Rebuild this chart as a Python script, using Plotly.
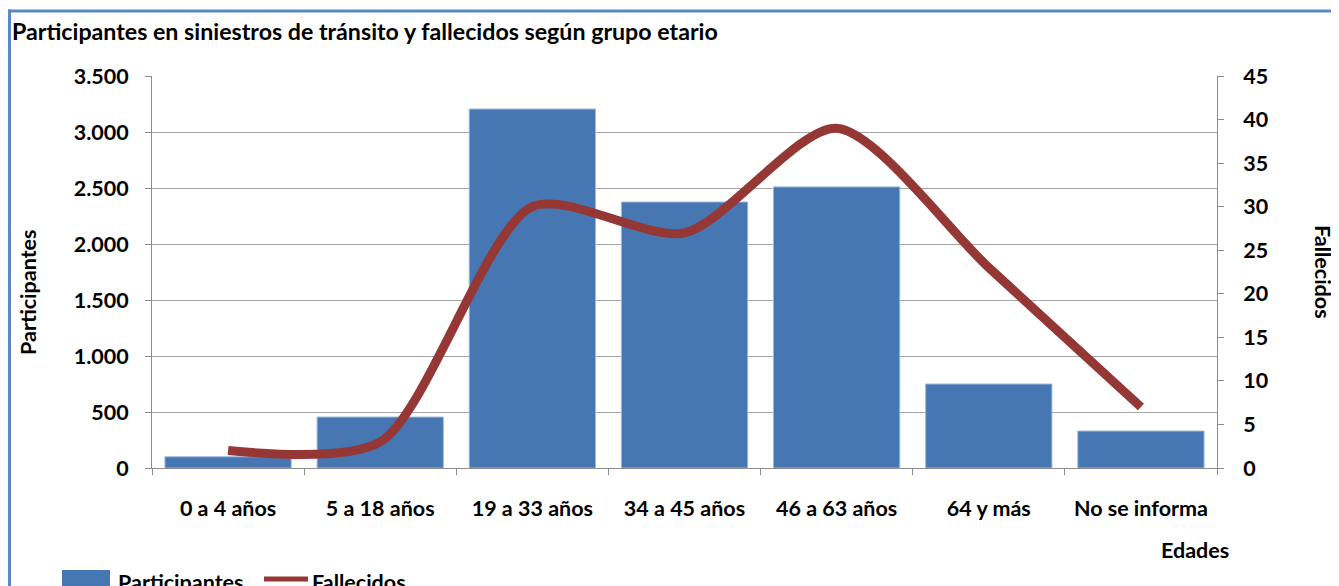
import plotly.graph_objects as go

categorias = ["0 a 4 años", "5 a 18 años", "19 a 33 años", "34 a 45 años",
              "46 a 63 años", "64 y más", "No se informa"]
participantes = [100, 455, 3205, 2375, 2510, 750, 330]
fallecidos = [2, 3, 30, 27, 39, 23, 7]

tick_part_vals = [0, 500, 1000, 1500, 2000, 2500, 3000, 3500]
tick_part_text = ["0", "500", "1.000", "1.500", "2.000", "2.500", "3.000", "3.500"]
tick_fall_vals = [0, 5, 10, 15, 20, 25, 30, 35, 40, 45]

# The page body has an 8px margin, so figure coords = page coords - OFF
OFF = 8
W, H = 1339, 586
L, R, T, B = 152 - OFF, 1217 - OFF, 76 - OFF, 468 - OFF
FONT = "Lato"
FS = 21.5
BAR_COLOR = "#4677b3"
LINE_COLOR = "#953735"
AXIS_COLOR = "#8c8c8c"
BORDER_COLOR = "#5b87c5"


def px(x):
    return (x - OFF - L) / (R - L)


def py(y):
    return (B - (y - OFF)) / (B - T)


fig = go.Figure()
fig.add_trace(go.Bar(
    x=categorias, y=participantes, name="Participantes",
    marker=dict(color=BAR_COLOR, line=dict(color="#9fb8d9", width=1)),
    yaxis="y", showlegend=False,
))
fig.add_trace(go.Scatter(
    x=categorias, y=fallecidos, name="Fallecidos", mode="lines",
    line=dict(color=LINE_COLOR, width=9, shape="spline", smoothing=0.75),
    yaxis="y2", showlegend=False,
))

tickfont = dict(family=FONT, size=FS, color="#000000")
fig.update_layout(
    width=W, height=H,
    margin=dict(l=L, r=W - R, t=T, b=H - B),
    paper_bgcolor="white", plot_bgcolor="white",
    bargap=0.17,
    font=dict(family=FONT, color="#000000"),
    title=dict(text="<b>Participantes en siniestros de tránsito y fallecidos según grupo etario</b>",
               x=(12 - OFF) / W, xanchor="left", xref="container",
               y=1 - (32 - OFF) / H, yanchor="middle", yref="container",
               font=dict(family=FONT, size=23.2, color="#000000")),
    xaxis=dict(
        type="category", showgrid=False, showline=True, linecolor=AXIS_COLOR, linewidth=1,
        ticks="outside", ticklen=6, tickcolor=AXIS_COLOR, tickson="boundaries",
        tickfont=tickfont, ticklabelstandoff=21,
        tickvals=categorias, ticktext=["<b>%s</b>" % c for c in categorias],
    ),
    yaxis=dict(
        range=[0, 3500], tickvals=tick_part_vals,
        ticktext=["<b>%s</b>" % t for t in tick_part_text],
        showgrid=True, gridcolor="#a6a6a6", gridwidth=1,
        showline=True, linecolor=AXIS_COLOR, linewidth=1,
        ticks="outside", ticklen=6, tickcolor=AXIS_COLOR,
        tickfont=tickfont, ticklabelstandoff=12, zeroline=False,
    ),
    yaxis2=dict(
        range=[0, 45], tickvals=tick_fall_vals,
        ticktext=["<b>%d</b>" % t for t in tick_fall_vals],
        overlaying="y", side="right", showgrid=False,
        showline=True, linecolor=AXIS_COLOR, linewidth=1,
        ticks="outside", ticklen=6, tickcolor=AXIS_COLOR,
        tickfont=tickfont, ticklabelstandoff=15, zeroline=False,
    ),
)

annotations = [
    dict(text="<b>Participantes</b>", x=px(28), y=py(292), textangle=-90,
         font=dict(family=FONT, size=FS)),
    dict(text="<b>Fallecidos</b>", x=px(1323), y=py(272), textangle=90,
         font=dict(family=FONT, size=FS)),
    dict(text="<b>Edades</b>", x=px(1195), y=py(550),
         font=dict(family=FONT, size=FS)),
    dict(text="<b>Participantes</b>", x=px(116), y=py(582), xanchor="left",
         font=dict(family=FONT, size=FS)),
    dict(text="<b>Fallecidos</b>", x=px(310), y=py(582), xanchor="left",
         font=dict(family=FONT, size=FS)),
]
for a in annotations:
    a.update(xref="paper", yref="paper", showarrow=False)
    a.setdefault("xanchor", "center")
    a.setdefault("yanchor", "middle")
fig.update_layout(annotations=annotations)

shapes = [
    # chart frame (only top and left edges are visible in the crop)
    dict(type="line", xref="paper", yref="paper",
         x0=px(8), x1=px(1339), y0=py(11), y1=py(11),
         line=dict(color=BORDER_COLOR, width=3), layer="above"),
    dict(type="line", xref="paper", yref="paper",
         x0=px(9.5), x1=px(9.5), y0=py(9.5), y1=py(586),
         line=dict(color=BORDER_COLOR, width=3), layer="above"),
    # legend keys
    dict(type="rect", xref="paper", yref="paper",
         x0=px(62), x1=px(110), y0=py(600), y1=py(570),
         line=dict(width=0), fillcolor=BAR_COLOR),
    dict(type="line", xref="paper", yref="paper",
         x0=px(264), x1=px(308), y0=py(579), y1=py(579),
         line=dict(color=LINE_COLOR, width=5)),
]
fig.update_layout(shapes=shapes)

fig.write_html("out.html")
